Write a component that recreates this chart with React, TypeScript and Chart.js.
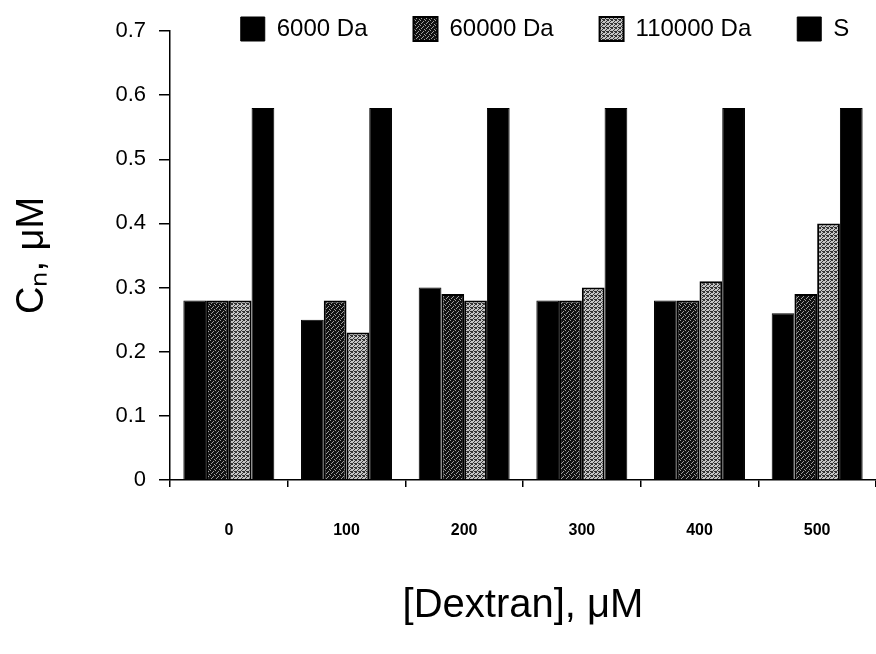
import React, { useEffect, useRef } from "react";
import { Chart, registerables } from "chart.js";

Chart.register(...registerables);

const categories = ["0", "100", "200", "300", "400", "500"];
const seriesLabels = ["6000 Da", "60000 Da", "110000 Da", "S"];
const values6000 = [0.28, 0.25, 0.3, 0.28, 0.28, 0.26];
const values60000 = [0.28, 0.28, 0.29, 0.28, 0.28, 0.29];
const values110000 = [0.28, 0.23, 0.28, 0.3, 0.31, 0.4];
const valuesS = [0.58, 0.58, 0.58, 0.58, 0.58, 0.58];
const yTickLabels = ["0", "0.1", "0.2", "0.3", "0.4", "0.5", "0.6", "0.7"];
const xTitle = "[Dextran], \u03bcM";
const yTitle = "C\u2099, \u03bcM";

const FONT = "'Liberation Sans', Arial, Helvetica, sans-serif";

function makePattern(base: string, speck: string, size: number, cells: number[][]) {
  const c = document.createElement("canvas");
  c.width = size;
  c.height = size;
  const ctx = c.getContext("2d")!;
  ctx.fillStyle = base;
  ctx.fillRect(0, 0, size, size);
  ctx.fillStyle = speck;
  cells.forEach(([x, y]) => ctx.fillRect(x, y, 1, 1));
  const probe = document.createElement("canvas").getContext("2d")!;
  return probe.createPattern(c, "repeat") as CanvasPattern;
}

const legendPlacer = {
  id: "legendPlacer",
  afterLayout(chart: any) {
    const l = chart.legend;
    if (!l) return;
    const pad = l.options.labels.padding;
    l.top = 17 - pad;
    l.bottom = 60;
    l.height = l.bottom - l.top;
    l.left -= 16;
    l.right += 60;
    l.width = l.right - l.left;
  },
};

export default function App() {
  const ref = useRef<HTMLCanvasElement | null>(null);

  useEffect(() => {
    if (!ref.current) return;
    const darkSpeck = makePattern("#111111", "#a0a0a0", 5, [
      [0, 0], [3, 1], [1, 3], [4, 4], [2, 2],
    ]);
    const lightSpeck = makePattern("#c4c4c4", "#333333", 4, [
      [0, 0], [2, 1], [1, 2], [3, 3], [3, 0], [0, 3], [2, 3],
    ]);

    const chart = new Chart(ref.current, {
      type: "bar",
      data: {
        labels: categories,
        datasets: [
          { label: seriesLabels[0], data: values6000, backgroundColor: "#000", borderColor: "#000", borderWidth: 1 },
          { label: seriesLabels[1], data: values60000, backgroundColor: darkSpeck, borderColor: "#000", borderWidth: 2 },
          { label: seriesLabels[2], data: values110000, backgroundColor: lightSpeck, borderColor: "#000", borderWidth: 2 },
          { label: seriesLabels[3], data: valuesS, backgroundColor: "#000", borderColor: "#000", borderWidth: 1 },
        ],
      },
      options: {
        responsive: false,
        animation: false,
        devicePixelRatio: 1,
        layout: { padding: { top: 30, left: 0, right: 0, bottom: 0 } },
        datasets: { bar: { categoryPercentage: 0.773, barPercentage: 1.0 } },
        plugins: {
          tooltip: { enabled: false },
          legend: {
            display: true,
            position: "top",
            fullSize: false,
            align: "center",
            maxHeight: 1,
            labels: {
              boxWidth: 24,
              boxHeight: 24,
              padding: 46,
              color: "#000",
              font: { family: FONT, size: 24 },
            },
          },
        },
        scales: {
          x: {
            offset: true,
            grid: {
              offset: true,
              drawOnChartArea: false,
              drawTicks: true,
              tickLength: 7,
              color: "#000",
              lineWidth: 1.5,
            },
            border: { display: true, color: "#000", width: 1.5 },
            ticks: {
              color: "#000",
              padding: 34,
              font: { family: FONT, size: 16, weight: "bold" },
            },
            title: {
              display: true,
              text: xTitle,
              color: "#000",
              font: { family: FONT, size: 40 },
              padding: { top: 0, bottom: 24 },
            },
            afterFit: (s: any) => {
              s.height = 174;
            },
          },
          y: {
            min: 0,
            max: 0.7,
            grid: {
              drawOnChartArea: false,
              drawTicks: true,
              tickLength: 11,
              color: "#000",
              lineWidth: 1.5,
            },
            border: { display: true, color: "#000", width: 1.5 },
            ticks: {
              stepSize: 0.1,
              color: "#000",
              padding: 13,
              font: { family: FONT, size: 22 },
              callback: (_v: any, i: number) => yTickLabels[i],
            },
            title: {
              display: true,
              text: yTitle,
              color: "#000",
              font: { family: FONT, size: 38 },
              padding: { top: 10, bottom: 0 },
            },
            afterFit: (s: any) => {
              s.width = 170;
            },
          },
        },
      },
      plugins: [legendPlacer],
    } as any);
    return () => chart.destroy();
  }, []);

  return (
    <div style={{ position: "absolute", left: 0, top: 0, width: 876, height: 654, background: "#fff" }}>
      <canvas ref={ref} width={876} height={654} style={{ display: "block" }} />
    </div>
  );
}
